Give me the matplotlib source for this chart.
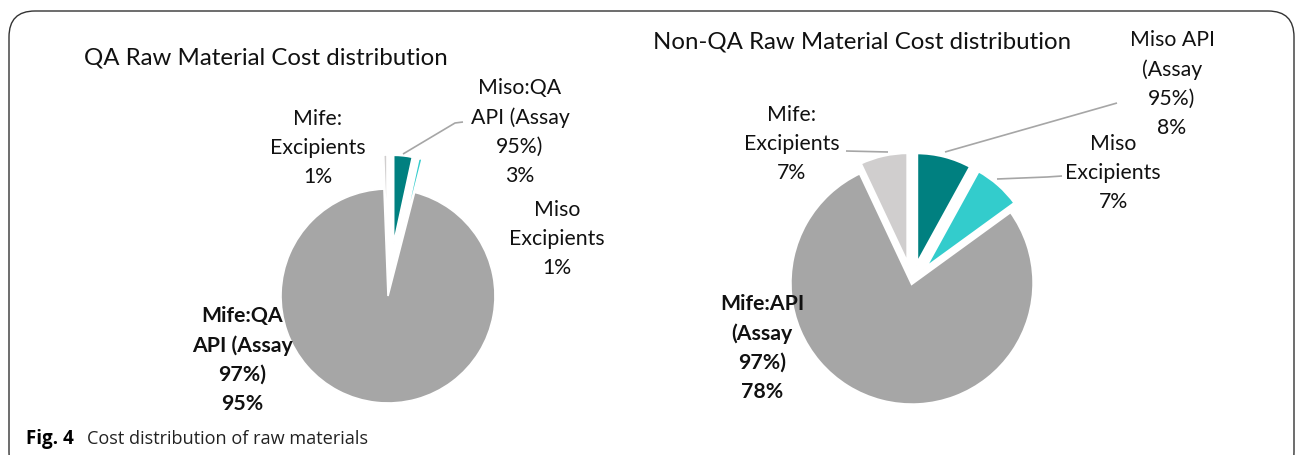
import matplotlib.pyplot as plt
from matplotlib.patches import FancyBboxPatch

# canvas size in pixels
W, H = 1295, 455

# data
qa_labels = ["Miso:QA\nAPI (Assay\n95%)\n3%", "Miso\nExcipients\n1%",
             "Mife:QA\nAPI (Assay\n97%)\n95%", "Mife:\nExcipients\n1%"]
qa_values = [3.4, 0.6, 95.4, 0.6]
nonqa_labels = ["Miso API\n(Assay\n95%)\n8%", "Miso\nExcipients\n7%",
                "Mife:API\n(Assay\n97%)\n78%", "Mife:\nExcipients\n7%"]
nonqa_values = [8, 7, 78, 7]
colors = ["#008080", "#33CCCC", "#A6A6A6", "#D0CECE"]
bold_label = [False, False, True, False]

plt.rcParams['font.family'] = ['Lato', 'DejaVu Sans']

fig = plt.figure(figsize=(W / 100, H / 100), dpi=100)
ax = fig.add_axes([0, 0, 1, 1])


def py(y):
    # pixel y from top -> data y
    return H - y


def draw_pie(values, center, radius, small_radius, explode_px, edge_lw):
    # explode is in data units (= pixels here)
    explode = [0 if i == 2 else explode_px for i in range(len(values))]
    wedges, _ = ax.pie(values, colors=colors, startangle=90, counterclock=False,
                       center=center, radius=radius, explode=explode,
                       wedgeprops=dict(edgecolor="white", linewidth=edge_lw))
    for i, w in enumerate(wedges):
        if i != 2:
            w.set_radius(small_radius)
    return wedges


draw_pie(qa_values, (388, py(296)), 107, 88, 53, 1.2)
draw_pie(nonqa_values, (912, py(283)), 122, 113, 18, 2.5)

ax.set_xlim(0, W)
ax.set_ylim(0, H)
ax.axis("off")

# titles
ax.text(266, py(58), "QA Raw Material Cost distribution", fontsize=17.3,
        ha="center", va="center", color="#111111")
ax.text(862, py(42), "Non-QA Raw Material Cost distribution", fontsize=17.3,
        ha="center", va="center", color="#111111")

# data labels (pixel positions)
qa_pos = [(520, 132), (557, 239), (242, 360), (318, 148)]
nonqa_pos = [(1172, 84), (1113, 173), (762, 348), (792, 144)]
for labels, pos in [(qa_labels, qa_pos), (nonqa_labels, nonqa_pos)]:
    for lab, (x, y), b in zip(labels, pos, bold_label):
        ax.text(x, py(y), lab, fontsize=15.3, ha="center", va="center",
                linespacing=1.55, fontweight="bold" if b else "normal",
                color="#111111")

# leader lines
leaders = [
    ([463, 455, 403], [122, 123, 154]),
    ([1117, 945], [103, 152]),
    ([1062, 1047, 997], [176, 177, 179]),
    ([846, 888], [151, 152]),
]
for xs, ys in leaders:
    ax.plot(xs, [py(v) for v in ys], color="#A6A6A6", lw=1.2, solid_capstyle="butt")

# frame around figure (open at bottom)
frame = FancyBboxPatch((9 / W, -0.05), (1294 - 9) / W, (H - 11) / H + 0.05,
                       boxstyle="round,pad=0,rounding_size=0.02",
                       transform=fig.transFigure, fill=False,
                       edgecolor="#333333", lw=1.0, mutation_aspect=W / H)
fig.patches.append(frame)

# caption
fig.text(26 / W, 1 - 439 / H, "Fig. 4", fontsize=13.5, fontweight="bold",
         family=["Open Sans", "DejaVu Sans"], va="center", ha="left")
fig.text(87 / W, 1 - 439 / H, "Cost distribution of raw materials", fontsize=13.1,
         family=["Open Sans", "DejaVu Sans"], va="center", ha="left", color="#222222")

fig.savefig("out.png", dpi=100)
